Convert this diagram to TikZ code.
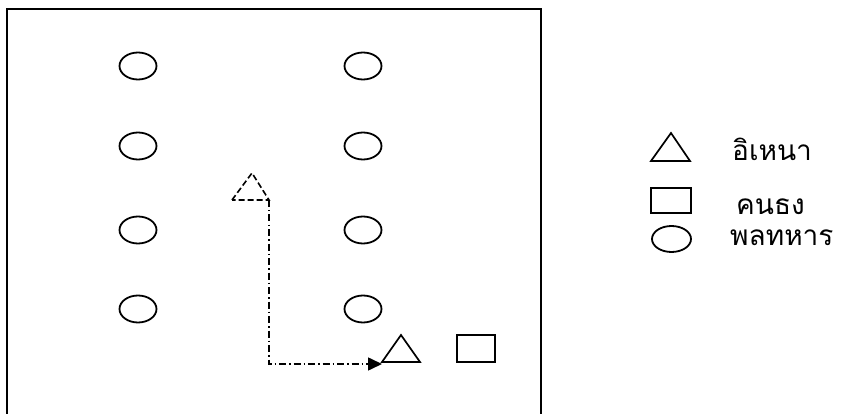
\documentclass[tikz,border=0pt]{standalone}
\usepackage{fontspec}
\newfontfamily\thaifont[Script=Thai]{Loma}
\usetikzlibrary{shapes.geometric,arrows.meta}
\begin{document}
\begin{tikzpicture}[x=1pt,y=-1pt,
  soldier/.style={ellipse,draw,line width=1.8pt,minimum width=37pt,minimum height=27pt,inner sep=0pt},
  shp/.style={draw,line width=1.7pt},
  legtext/.style={anchor=west,inner sep=0pt,font=\thaifont\fontsize{28}{32}\selectfont},
  dashdot/.style={line width=1.6pt,dash pattern=on 7pt off 3pt on 1.5pt off 3pt}
]
\useasboundingbox (0,0) rectangle (843,414);
\draw[line width=2pt] (7,430) -- (7,9) -- (541,9) -- (541,430);
% soldiers
\foreach \y [count=\i] in {66,146,230,309}{
  \node[soldier] (L\i) at (138,\y) {};
  \node[soldier] (R\i) at (363,\y) {};
}
% dashed triangle (start position)
\draw[line width=1.6pt,dash pattern=on 6pt off 3pt] (232,200) -- (252,173) -- (269,200) -- cycle;
\coordinate (start) at (269,200);
\coordinate (corner) at (269,364);
% solid triangle and rectangle
\draw[shp] (382,362) -- (401,335) -- (420,362) -- cycle;
\coordinate (tri) at (382,364);
\node[shp,minimum width=38pt,minimum height=27pt,inner sep=0pt] (flag) at (476,348.5) {};
% path
\draw[dashdot,-{Triangle[length=14pt,width=13pt]}] (start) -- (corner) -- (tri);
% legend
\draw[shp] (651,161) -- (671,133) -- (690,161) -- cycle;
\node[shp,minimum width=40pt,minimum height=25pt,inner sep=0pt] (legrect) at (671,200.5) {};
\node[soldier,minimum width=39pt,minimum height=26pt] (legell) at (671.5,239) {};
\node[legtext] (t1) at (732,149) {อิเหนา};
\node[legtext] (t2) at (736,207) {คนธง};
\node[legtext] (t3) at (730,238) {พลทหาร};
\end{tikzpicture}
\end{document}
